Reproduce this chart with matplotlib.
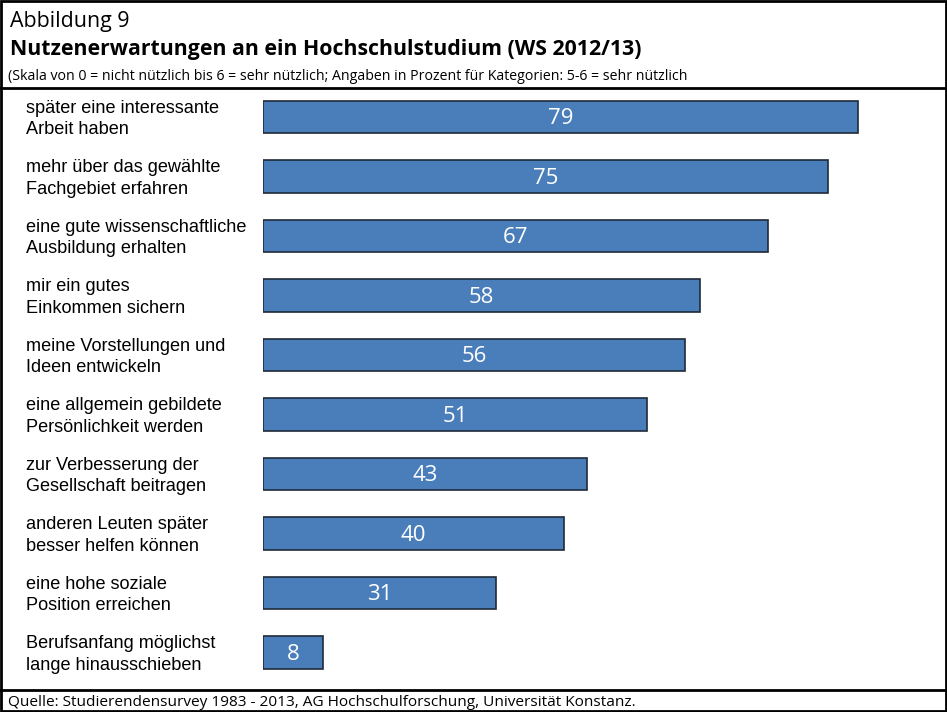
import matplotlib.pyplot as plt
from matplotlib.patches import Rectangle
from matplotlib.lines import Line2D

kategorien = [
    "später eine interessante\nArbeit haben",
    "mehr über das gewählte\nFachgebiet erfahren",
    "eine gute wissenschaftliche\nAusbildung erhalten",
    "mir ein gutes\nEinkommen sichern",
    "meine Vorstellungen und\nIdeen entwickeln",
    "eine allgemein gebildete\nPersönlichkeit werden",
    "zur Verbesserung der\nGesellschaft beitragen",
    "anderen Leuten später\nbesser helfen können",
    "eine hohe soziale\nPosition erreichen",
    "Berufsanfang möglichst\nlange hinausschieben",
]
werte = [79, 75, 67, 58, 56, 51, 43, 40, 31, 8]

W, H = 947, 712
fig = plt.figure(figsize=(W / 100, H / 100), dpi=100)

# Achsen: x=0 bei 263 px, 7.53 px pro Prozentpunkt
ax_left = 263 / W
ax_w = 667 / W
ax_top = 87.25
ax_bot = 682.25
ax = fig.add_axes([ax_left, 1 - ax_bot / H, ax_w, (ax_bot - ax_top) / H])
ax.set_xlim(0, 667 / 7.53)
ax.set_ylim(len(werte) - 0.5, -0.5)
ax.axis("off")

pos = list(range(len(werte)))
ax.barh(pos, werte, height=0.54, color="#4a7ebb", edgecolor="#1f2a38", linewidth=1.2)
for y, v in zip(pos, werte):
    ax.text(v / 2, y + 0.03, str(v), ha="center", va="center", color="white",
            fontsize=16, family="Open Sans")

# Beschriftungen links
for y, lab in zip(pos, kategorien):
    yy = 1 - (ax_top + (y + 0.5) * 59.5 + 2) / H
    fig.text(26 / W, yy, lab, ha="left", va="center", fontsize=13.1,
             family="Liberation Sans", linespacing=1.35)

# Kopf
fig.text(10 / W, 1 - 21 / H, "Abbildung 9", fontsize=15.4, family="Open Sans", va="center")
fig.text(10 / W, 1 - 49 / H, "Nutzenerwartungen an ein Hochschulstudium (WS 2012/13)",
         fontsize=15.3, fontweight="bold", family="Open Sans", va="center")
fig.text(8 / W, 1 - 77 / H,
         "(Skala von 0 = nicht nützlich bis 6 = sehr nützlich; Angaben in Prozent für Kategorien: 5-6 = sehr nützlich",
         fontsize=10.2, family="Open Sans", va="center")
fig.text(8 / W, 1 - 702 / H,
         "Quelle: Studierendensurvey 1983 - 2013, AG Hochschulforschung, Universität Konstanz.",
         fontsize=11.1, family="Open Sans", va="center")

# Rahmen und Trennlinien
fig.add_artist(Rectangle((1 / W, 1 / H), (W - 2) / W, (H - 2) / H, transform=fig.transFigure,
                         fill=False, edgecolor="black", linewidth=2))
for yl in (88, 690):
    fig.add_artist(Line2D([0, 1], [1 - yl / H, 1 - yl / H], transform=fig.transFigure,
                          color="black", linewidth=2))

fig.savefig("out.png", dpi=100)
